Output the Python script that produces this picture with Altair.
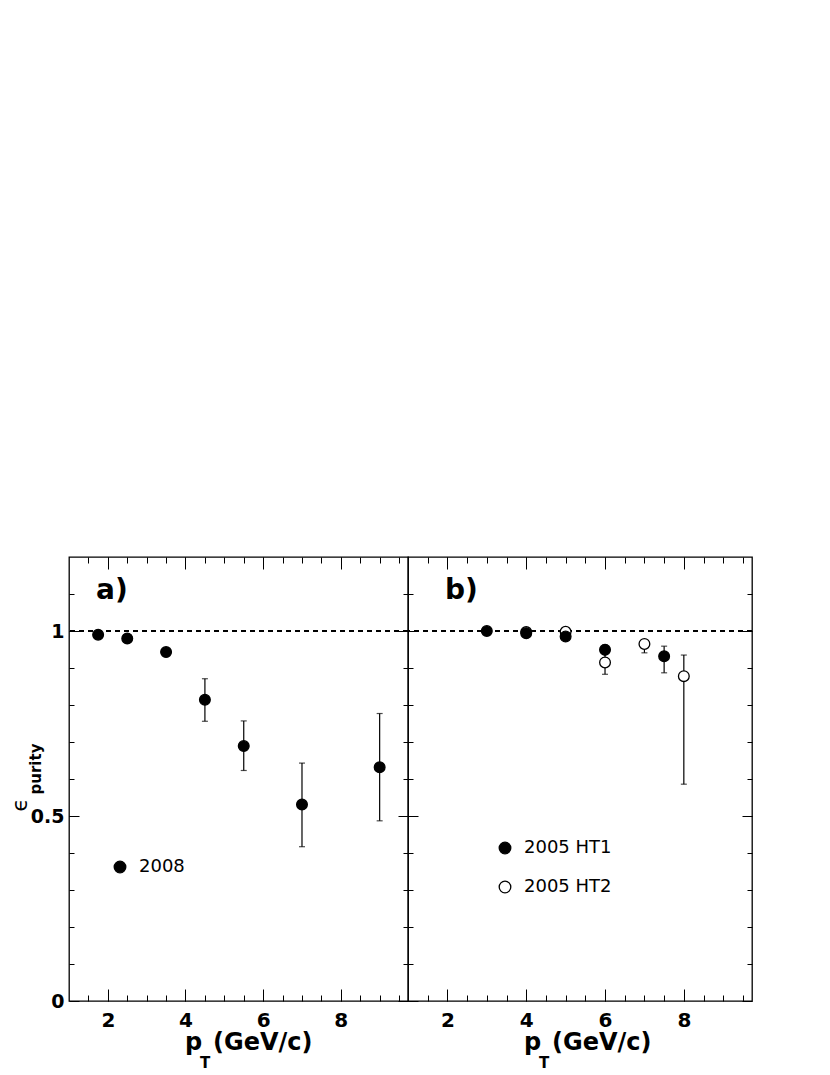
import altair as alt
import pandas as pd

FONT = "DejaVu Sans"

# ---------------- data ----------------
# panel a) 2008
a_pt = [1.75, 2.5, 3.5, 4.5, 5.5, 7.0, 9.0]
a_val = [0.990, 0.980, 0.943, 0.814, 0.689, 0.531, 0.632]
a_lo = [0.985, 0.975, 0.938, 0.756, 0.623, 0.417, 0.487]
a_hi = [0.995, 0.985, 0.948, 0.871, 0.757, 0.643, 0.777]

# panel b) 2005 HT1 (filled) / HT2 (open)
ht1_pt = [3.0, 4.0, 5.0, 6.0, 7.5]
ht1_val = [1.000, 0.994, 0.985, 0.949, 0.932]
ht1_lo = [0.996, 0.990, 0.980, 0.927, 0.887]
ht1_hi = [1.000, 0.998, 0.990, 0.962, 0.959]

ht2_pt = [4.0, 5.0, 6.0, 7.0, 8.0]
ht2_val = [0.997, 0.998, 0.915, 0.965, 0.878]
ht2_lo = [0.993, 0.994, 0.883, 0.941, 0.586]
ht2_hi = [1.000, 1.000, 0.927, 0.975, 0.935]

series_a = ["2008"]
series_b = ["2005 HT1", "2005 HT2"]
fills_a = ["black"]
fills_b = ["black", "white"]

ref_line = [1.0]

x_domain = [1.0, 9.73]
y_domain = [0.0, 1.2]
x_major = [2, 4, 6, 8]
x_minor = [1.5, 2.0, 2.5, 3.0, 3.5, 4.0, 4.5, 5.0, 5.5, 6.0, 6.5, 7.0, 7.5, 8.0, 8.5, 9.0, 9.5]
y_major = [0, 0.5, 1]
y_minor = [0.1, 0.2, 0.3, 0.4, 0.5, 0.6, 0.7, 0.8, 0.9, 1.0, 1.1]

panel_tags = ["a)", "b)"]
x_title_main = ["p", "(GeV/c)"]
x_title_sub = ["T"]
y_title_main = ["\u03f5"]
y_title_sub = ["purity"]

H = 444


def xax(orient, values, size, labels):
    return alt.Axis(orient=orient, values=values, tickSize=size, offset=-size,
                    labels=labels, domain=False, grid=False, title=None, format="~g",
                    labelFont=FONT, labelFontSize=20, labelFontWeight="bold",
                    labelColor="black", labelPadding=9, tickColor="black", tickWidth=1,
                    minExtent=0)


def yax(orient, values, size, labels):
    return alt.Axis(orient=orient, values=values, tickSize=size, offset=-size,
                    labels=labels, domain=False, grid=False, title=None, format="~g",
                    labelFont=FONT, labelFontSize=19, labelFontWeight="bold",
                    labelColor="black", labelPadding=5, tickColor="black", tickWidth=1,
                    minExtent=0)


def text_layer(txt, x, y, size, weight="bold", align="left", baseline="alphabetic", angle=0):
    return alt.Chart(pd.DataFrame({"t": txt})).mark_text(
        font=FONT, fontSize=size, fontWeight=weight, align=align,
        baseline=baseline, angle=angle, color="black"
    ).encode(x=alt.value(x), y=alt.value(y), text="t:N")


def panel(df, series, fills, width, tag, tag_x, ylabels, leg_x, leg_y, ytitle):
    xs = alt.Scale(domain=x_domain, nice=False, zero=False)
    ys = alt.Scale(domain=y_domain, nice=False, zero=False)
    base = alt.Chart(df)

    dashed = alt.Chart(pd.DataFrame({"one": ref_line})).mark_rule(
        strokeDash=[5, 4], strokeWidth=2, color="black"
    ).encode(y=alt.Y("one:Q", scale=ys, axis=None))

    err = base.mark_rule(strokeWidth=1.2, color="black").encode(
        x=alt.X("pt:Q", scale=xs, axis=xax("bottom", x_major, 12, True)),
        y=alt.Y("lo:Q", scale=ys, axis=yax("left", y_major, 10, ylabels)),
        y2="hi:Q",
    )
    cap_lo = base.mark_tick(orient="horizontal", size=6, thickness=1.2, color="black").encode(
        x=alt.X("pt:Q", scale=xs, axis=xax("bottom", x_minor, 6, False)),
        y=alt.Y("lo:Q", scale=ys, axis=yax("left", y_minor, 5, False)),
    )
    cap_hi = base.mark_tick(orient="horizontal", size=6, thickness=1.2, color="black").encode(
        x=alt.X("pt:Q", scale=xs, axis=xax("top", x_major, 12, False)),
        y=alt.Y("hi:Q", scale=ys, axis=yax("right", y_major, 10, False)),
    )
    pts = base.mark_circle(size=115, stroke="black", strokeWidth=1.3, opacity=1, fillOpacity=1).encode(
        x=alt.X("pt:Q", scale=xs, axis=xax("top", x_minor, 6, False)),
        y=alt.Y("val:Q", scale=ys, axis=yax("right", y_minor, 5, False)),
        fill=alt.Fill("series:N", scale=alt.Scale(domain=series, range=fills),
                      sort=series,
                      legend=alt.Legend(orient="none", legendX=leg_x, legendY=leg_y, title=None,
                                        symbolType="circle", symbolSize=135,
                                        symbolStrokeColor="black", symbolStrokeWidth=1.3,
                                        labelFont=FONT, labelFontSize=18, labelColor="black",
                                        labelOffset=10, rowPadding=21, padding=0)),
    )

    layers = [dashed, err, cap_lo, cap_hi, pts,
              text_layer([tag], tag_x, 42, 28),
              text_layer([x_title_main[0]], 116, 493, 24),
              text_layer(x_title_sub, 131, 511, 15),
              text_layer([x_title_main[1]], 144, 493, 24)]
    if ytitle:
        layers += [text_layer(y_title_main, -49, 248, 22, weight="normal", align="center",
                              baseline="middle", angle=270),
                   text_layer(y_title_sub, -33, 212, 15, align="center",
                              baseline="middle", angle=270)]
    return alt.layer(*layers).resolve_axis(x="independent", y="independent").properties(
        width=width, height=H)


df_a = pd.DataFrame({"pt": a_pt, "val": a_val, "lo": a_lo, "hi": a_hi,
                     "series": [series_a[0]] * len(a_pt)})
df_b = pd.concat([
    pd.DataFrame({"pt": ht2_pt, "val": ht2_val, "lo": ht2_lo, "hi": ht2_hi,
                  "series": [series_b[1]] * len(ht2_pt)}),
    pd.DataFrame({"pt": ht1_pt, "val": ht1_val, "lo": ht1_lo, "hi": ht1_hi,
                  "series": [series_b[0]] * len(ht1_pt)}),
], ignore_index=True)

pa = panel(df_a, series_a, fills_a, 339, panel_tags[0], 27, True, 42, 301, True)
pb = panel(df_b, series_b, fills_b, 344, panel_tags[1], 37, False, 88, 282, False)

chart = alt.hconcat(pa, pb, spacing=0, bounds="flush").resolve_scale(
    fill="independent", x="independent", y="independent"
).properties(
    padding={"left": 0, "top": 547, "right": 5, "bottom": 0}
).configure(font=FONT).configure_view(stroke="black", strokeWidth=1.3)

chart.save("out.html", embed_options={"renderer": "svg", "actions": False})
